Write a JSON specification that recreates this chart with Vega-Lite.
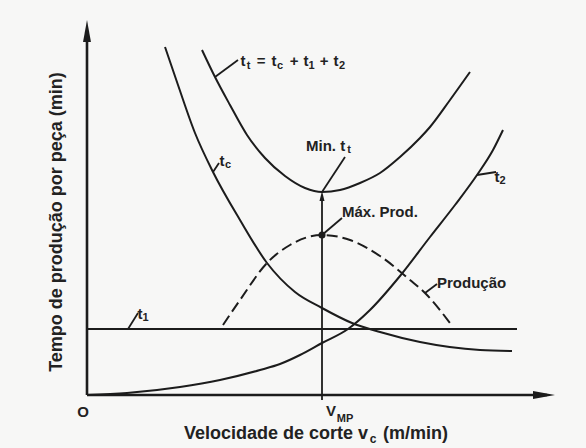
{
  "$schema": "https://vega.github.io/schema/vega-lite/v6.json",
  "width": 483,
  "height": 375,
  "autosize": "none",
  "padding": {"left": 87, "top": 20, "right": 16, "bottom": 53},
  "background": "#f7f7f6",
  "config": {
    "view": {"stroke": null},
    "text": {"font": "Liberation Sans", "fontWeight": "bold", "fill": "#222222", "baseline": "middle"}
  },
  "datasets": {
    "curves": [
      {"series": "tc", "v": 78, "t": 348}, {"series": "tc", "v": 91, "t": 310}, {"series": "tc", "v": 108, "t": 262},
      {"series": "tc", "v": 126, "t": 223}, {"series": "tc", "v": 153, "t": 175}, {"series": "tc", "v": 180, "t": 132},
      {"series": "tc", "v": 208, "t": 103}, {"series": "tc", "v": 235, "t": 87}, {"series": "tc", "v": 265, "t": 72},
      {"series": "tc", "v": 293, "t": 63}, {"series": "tc", "v": 333, "t": 53}, {"series": "tc", "v": 393, "t": 45},
      {"series": "tc", "v": 425, "t": 44},
      {"series": "tt", "v": 115, "t": 345}, {"series": "tt", "v": 128, "t": 318}, {"series": "tt", "v": 143, "t": 290},
      {"series": "tt", "v": 160, "t": 260}, {"series": "tt", "v": 178, "t": 237}, {"series": "tt", "v": 198, "t": 219},
      {"series": "tt", "v": 218, "t": 207}, {"series": "tt", "v": 235, "t": 203}, {"series": "tt", "v": 253, "t": 205},
      {"series": "tt", "v": 273, "t": 212}, {"series": "tt", "v": 293, "t": 222}, {"series": "tt", "v": 313, "t": 238},
      {"series": "tt", "v": 333, "t": 257}, {"series": "tt", "v": 343, "t": 268}, {"series": "tt", "v": 363, "t": 295},
      {"series": "tt", "v": 383, "t": 323},
      {"series": "t2", "v": 0, "t": 0}, {"series": "t2", "v": 40, "t": 2}, {"series": "t2", "v": 93, "t": 8},
      {"series": "t2", "v": 133, "t": 15}, {"series": "t2", "v": 173, "t": 25}, {"series": "t2", "v": 193, "t": 31},
      {"series": "t2", "v": 213, "t": 40}, {"series": "t2", "v": 235, "t": 52}, {"series": "t2", "v": 261, "t": 66},
      {"series": "t2", "v": 283, "t": 85}, {"series": "t2", "v": 313, "t": 119}, {"series": "t2", "v": 343, "t": 158},
      {"series": "t2", "v": 368, "t": 190}, {"series": "t2", "v": 390, "t": 220}, {"series": "t2", "v": 406, "t": 245},
      {"series": "t2", "v": 416, "t": 265},
      {"series": "t1", "v": 0, "t": 66}, {"series": "t1", "v": 430, "t": 66},
      {"series": "prod", "v": 136, "t": 70}, {"series": "prod", "v": 153, "t": 95}, {"series": "prod", "v": 180, "t": 132},
      {"series": "prod", "v": 203, "t": 150}, {"series": "prod", "v": 235, "t": 160}, {"series": "prod", "v": 263, "t": 155},
      {"series": "prod", "v": 293, "t": 139}, {"series": "prod", "v": 323, "t": 115}, {"series": "prod", "v": 338, "t": 102},
      {"series": "prod", "v": 363, "t": 72}
    ],
    "segments": [
      {"name": "eixo y", "v": 0, "t": 0, "ve": 0, "te": 360},
      {"name": "eixo x", "v": 0, "t": 0, "ve": 460, "te": 0},
      {"name": "vmp", "v": 235, "t": -5, "ve": 235, "te": 196},
      {"name": "tt", "v": 128, "t": 318, "ve": 151, "te": 335},
      {"name": "tc", "v": 126, "t": 223, "ve": 132, "te": 232},
      {"name": "min", "v": 235, "t": 203, "ve": 258, "te": 238},
      {"name": "max", "v": 235, "t": 160, "ve": 255, "te": 177},
      {"name": "t2", "v": 390, "t": 220, "ve": 409, "te": 223},
      {"name": "t1", "v": 41, "t": 66, "ve": 51, "te": 82},
      {"name": "prod", "v": 338, "t": 102, "ve": 350, "te": 111}
    ],
    "points": [
      {"kind": "arrow-y", "v": 0, "t": 364},
      {"kind": "arrow-x", "v": 457, "t": 0},
      {"kind": "arrow-min", "v": 235, "t": 199},
      {"kind": "dot", "v": 235, "t": 160}
    ],
    "labels": [
      {"kind": "main", "text": "t", "v": 156, "t": 334},
      {"kind": "main", "text": "=", "v": 174, "t": 334},
      {"kind": "main", "text": "t", "v": 187, "t": 334},
      {"kind": "main", "text": "+", "v": 207, "t": 334},
      {"kind": "main", "text": "t", "v": 219, "t": 334},
      {"kind": "main", "text": "+", "v": 237, "t": 334},
      {"kind": "main", "text": "t", "v": 249, "t": 334},
      {"kind": "main", "text": "t", "v": 135, "t": 234},
      {"kind": "main", "text": "t", "v": 410, "t": 218},
      {"kind": "main", "text": "t", "v": 53, "t": 81},
      {"kind": "main", "text": "O", "v": -4, "t": -17},
      {"kind": "main", "text": "V", "v": 244, "t": -16},
      {"kind": "phrase", "text": "Min. t", "v": 219, "t": 249},
      {"kind": "phrase", "text": "Máx. Prod.", "v": 255, "t": 183},
      {"kind": "phrase", "text": "Produção", "v": 350, "t": 112},
      {"kind": "sub", "text": "t", "v": 161.5, "t": 329},
      {"kind": "sub", "text": "c", "v": 193, "t": 329},
      {"kind": "sub", "text": "1", "v": 224.5, "t": 329},
      {"kind": "sub", "text": "2", "v": 255, "t": 329},
      {"kind": "sub", "text": "c", "v": 141, "t": 230},
      {"kind": "sub", "text": "t", "v": 262, "t": 245},
      {"kind": "sub", "text": "2", "v": 415.5, "t": 214},
      {"kind": "sub", "text": "1", "v": 58.5, "t": 77},
      {"kind": "sub", "text": "MP", "v": 258, "t": -24},
      {"kind": "xtitle-left", "text": "Velocidade de corte v", "v": 281, "t": -39},
      {"kind": "xtitle-sub", "text": "c", "v": 286, "t": -44},
      {"kind": "xtitle-right", "text": "(m/min)", "v": 296, "t": -39},
      {"kind": "ytitle", "text": "Tempo de produção por peça (min)", "v": -30, "t": 173}
    ]
  },
  "encoding": {
    "x": {"field": "v", "type": "quantitative", "scale": {"domain": [0, 483], "nice": false, "zero": false}, "axis": null},
    "y": {"field": "t", "type": "quantitative", "scale": {"domain": [0, 375], "nice": false, "zero": false}, "axis": null}
  },
  "layer": [
    {
      "data": {"name": "segments"},
      "transform": [{"filter": "datum.name == 'eixo x' || datum.name == 'eixo y'"}],
      "mark": {"type": "rule", "stroke": "#1c1c1c", "strokeWidth": 2.6},
      "encoding": {"x2": {"field": "ve"}, "y2": {"field": "te"}}
    },
    {
      "data": {"name": "segments"},
      "transform": [{"filter": "datum.name != 'eixo x' && datum.name != 'eixo y'"}],
      "mark": {"type": "rule", "stroke": "#1c1c1c", "strokeWidth": 1.8},
      "encoding": {"x2": {"field": "ve"}, "y2": {"field": "te"}}
    },
    {
      "data": {"name": "curves"},
      "transform": [{"filter": "datum.series != 'prod'"}],
      "mark": {"type": "line", "interpolate": "monotone", "stroke": "#1c1c1c", "strokeWidth": 2},
      "encoding": {"detail": {"field": "series", "type": "nominal"}}
    },
    {
      "data": {"name": "curves"},
      "transform": [{"filter": "datum.series == 'prod'"}],
      "mark": {"type": "line", "interpolate": "monotone", "stroke": "#1c1c1c", "strokeWidth": 2, "strokeDash": [11, 5]},
      "encoding": {}
    },
    {
      "data": {"name": "points"},
      "transform": [{"filter": "datum.kind == 'arrow-y'"}],
      "mark": {"type": "point", "shape": "M0,-1L0.36,1L-0.36,1Z", "filled": true, "fill": "#1c1c1c", "strokeWidth": 0, "size": 484, "opacity": 1}
    },
    {
      "data": {"name": "points"},
      "transform": [{"filter": "datum.kind == 'arrow-x'"}],
      "mark": {"type": "point", "shape": "M1,0L-1,0.36L-1,-0.36Z", "filled": true, "fill": "#1c1c1c", "strokeWidth": 0, "size": 484, "opacity": 1}
    },
    {
      "data": {"name": "points"},
      "transform": [{"filter": "datum.kind == 'arrow-min'"}],
      "mark": {"type": "point", "shape": "M0,-1L0.5,1L-0.5,1Z", "filled": true, "fill": "#1c1c1c", "strokeWidth": 0, "size": 100, "opacity": 1}
    },
    {
      "data": {"name": "points"},
      "transform": [{"filter": "datum.kind == 'dot'"}],
      "mark": {"type": "circle", "fill": "#1c1c1c", "size": 50, "opacity": 1}
    },
    {
      "data": {"name": "labels"},
      "transform": [{"filter": "datum.kind == 'main'"}],
      "mark": {"type": "text", "fontSize": 15, "align": "center"},
      "encoding": {"text": {"field": "text"}}
    },
    {
      "data": {"name": "labels"},
      "transform": [{"filter": "datum.kind == 'phrase'"}],
      "mark": {"type": "text", "fontSize": 15, "align": "left"},
      "encoding": {"text": {"field": "text"}}
    },
    {
      "data": {"name": "labels"},
      "transform": [{"filter": "datum.kind == 'sub'"}],
      "mark": {"type": "text", "fontSize": 11, "align": "center"},
      "encoding": {"text": {"field": "text"}}
    },
    {
      "data": {"name": "labels"},
      "transform": [{"filter": "datum.kind == 'xtitle-left'"}],
      "mark": {"type": "text", "fontSize": 18, "align": "right"},
      "encoding": {"text": {"field": "text"}}
    },
    {
      "data": {"name": "labels"},
      "transform": [{"filter": "datum.kind == 'xtitle-sub'"}],
      "mark": {"type": "text", "fontSize": 12, "align": "center"},
      "encoding": {"text": {"field": "text"}}
    },
    {
      "data": {"name": "labels"},
      "transform": [{"filter": "datum.kind == 'xtitle-right'"}],
      "mark": {"type": "text", "fontSize": 18, "align": "left"},
      "encoding": {"text": {"field": "text"}}
    },
    {
      "data": {"name": "labels"},
      "transform": [{"filter": "datum.kind == 'ytitle'"}],
      "mark": {"type": "text", "fontSize": 18, "align": "center", "angle": 270},
      "encoding": {"text": {"field": "text"}}
    }
  ]
}
